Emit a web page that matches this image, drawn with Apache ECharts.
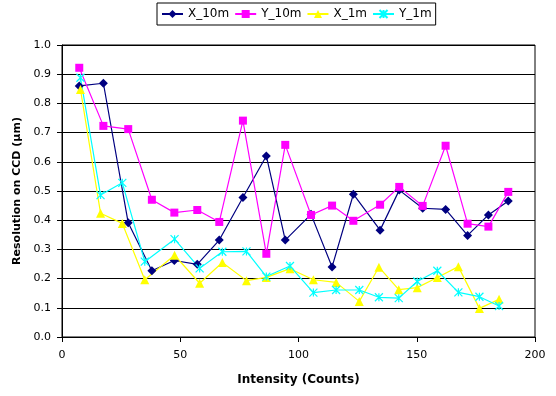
<!DOCTYPE html>
<html>
<head>
<meta charset="utf-8">
<script src="https://cdn.jsdelivr.net/npm/echarts@6/dist/echarts.min.js"></script>
<style>
  html, body { margin: 0; padding: 0; background: #fff; }
  #chart { width: 556px; height: 396px; }
</style>
</head>
<body>
<div id="chart"></div>
<script>
// intensity positions (the 10m and 1m runs were sampled at slightly different counts)
const intensity10m = [7.3, 17.5, 28, 38, 47.5, 57.2, 66.5, 76.5, 86.4, 94.4, 105.3, 114.2, 123.2, 134.5, 142.6, 152.5, 162.2, 171.5, 180.3, 188.7]
const intensity1m = [7.8, 16.3, 25.5, 35, 47.6, 58.2, 67.8, 78, 86.4, 96.4, 106.3, 115.9, 125.7, 134, 142.4, 150.2, 158.7, 167.6, 176.5, 184.8]

const x10m = [0.86, 0.869, 0.391, 0.227, 0.262, 0.249, 0.332, 0.478, 0.62, 0.332, 0.42, 0.24, 0.489, 0.366, 0.503, 0.441, 0.437, 0.348, 0.418, 0.466]
const y10m = [0.922, 0.723, 0.712, 0.47, 0.426, 0.435, 0.394, 0.741, 0.285, 0.658, 0.418, 0.45, 0.398, 0.453, 0.514, 0.449, 0.655, 0.388, 0.378, 0.497]
const x1m = [0.848, 0.424, 0.389, 0.196, 0.28, 0.184, 0.255, 0.193, 0.204, 0.234, 0.196, 0.187, 0.122, 0.239, 0.162, 0.169, 0.204, 0.241, 0.098, 0.129]
const y1m = [0.888, 0.486, 0.528, 0.258, 0.335, 0.235, 0.292, 0.293, 0.207, 0.243, 0.152, 0.161, 0.161, 0.136, 0.133, 0.19, 0.227, 0.153, 0.138, 0.106]

const xTicks = { min: 0, max: 200, step: 50 }
const yTicks = { min: 0, max: 1, step: 0.1 }

const font = 'DejaVu Sans'
const pair = (xs, ys) => xs.map((x, i) => [x, ys[i]])

const starSymbol = 'path://M0,0L10,10M10,0L0,10M5,0L5,10'

const chart = echarts.init(document.getElementById('chart'))

const makeSeries = (name, data, color, symbol, size, extra) => ({
  name,
  type: 'line',
  data,
  symbol,
  symbolSize: size,
  showSymbol: true,
  lineStyle: { color, width: 1.2 },
  itemStyle: Object.assign({ color }, extra || {}),
  emphasis: { disabled: true },
  animation: false
})

chart.setOption({
  backgroundColor: '#fff',
  textStyle: { fontFamily: font },
  legend: {
    left: 157,
    top: 3,
    padding: [5, 4, 5, 4],
    itemWidth: 21,
    itemHeight: 10,
    itemGap: 5,
    borderColor: '#000',
    borderWidth: 1,
    textStyle: { fontFamily: font, fontSize: 12, color: '#000' }
  },
  grid: {
    left: 62,
    right: 21,
    top: 45,
    bottom: 59,
    show: true,
    borderColor: '#000',
    borderWidth: 1
  },
  xAxis: {
    type: 'value',
    min: xTicks.min,
    max: xTicks.max,
    interval: xTicks.step,
    name: 'Intensity (Counts)',
    nameLocation: 'middle',
    nameGap: 37,
    nameTextStyle: { fontFamily: font, fontSize: 12, fontWeight: 'bold', color: '#000' },
    axisLine: { show: true, lineStyle: { color: '#000', width: 1 } },
    axisTick: { show: true, length: 5, lineStyle: { color: '#000' } },
    axisLabel: { color: '#000', fontSize: 11, fontFamily: font, margin: 13 },
    splitLine: { show: false }
  },
  yAxis: {
    type: 'value',
    min: yTicks.min,
    max: yTicks.max,
    interval: yTicks.step,
    name: 'Resolution on CCD (μm)',
    nameLocation: 'middle',
    nameGap: 37,
    nameTextStyle: { fontFamily: font, fontSize: 11, fontWeight: 'bold', color: '#000' },
    axisLine: { show: true, lineStyle: { color: '#000', width: 1 } },
    axisTick: { show: true, length: 5, lineStyle: { color: '#000' } },
    axisLabel: { color: '#000', fontSize: 11, fontFamily: font, margin: 11, formatter: v => v.toFixed(1) },
    splitLine: { show: true, lineStyle: { color: '#000', width: 1 } }
  },
  series: [
    makeSeries('X_10m', pair(intensity10m, x10m), '#000080', 'diamond', 9),
    makeSeries('Y_10m', pair(intensity10m, y10m), '#ff00ff', 'rect', 8),
    makeSeries('X_1m', pair(intensity1m, x1m), '#ffff00', 'triangle', 9),
    makeSeries('Y_1m', pair(intensity1m, y1m), '#00ffff', starSymbol, 8,
      { borderColor: '#00ffff', borderWidth: 1.2 })
  ]
})
</script>
</body>
</html>
